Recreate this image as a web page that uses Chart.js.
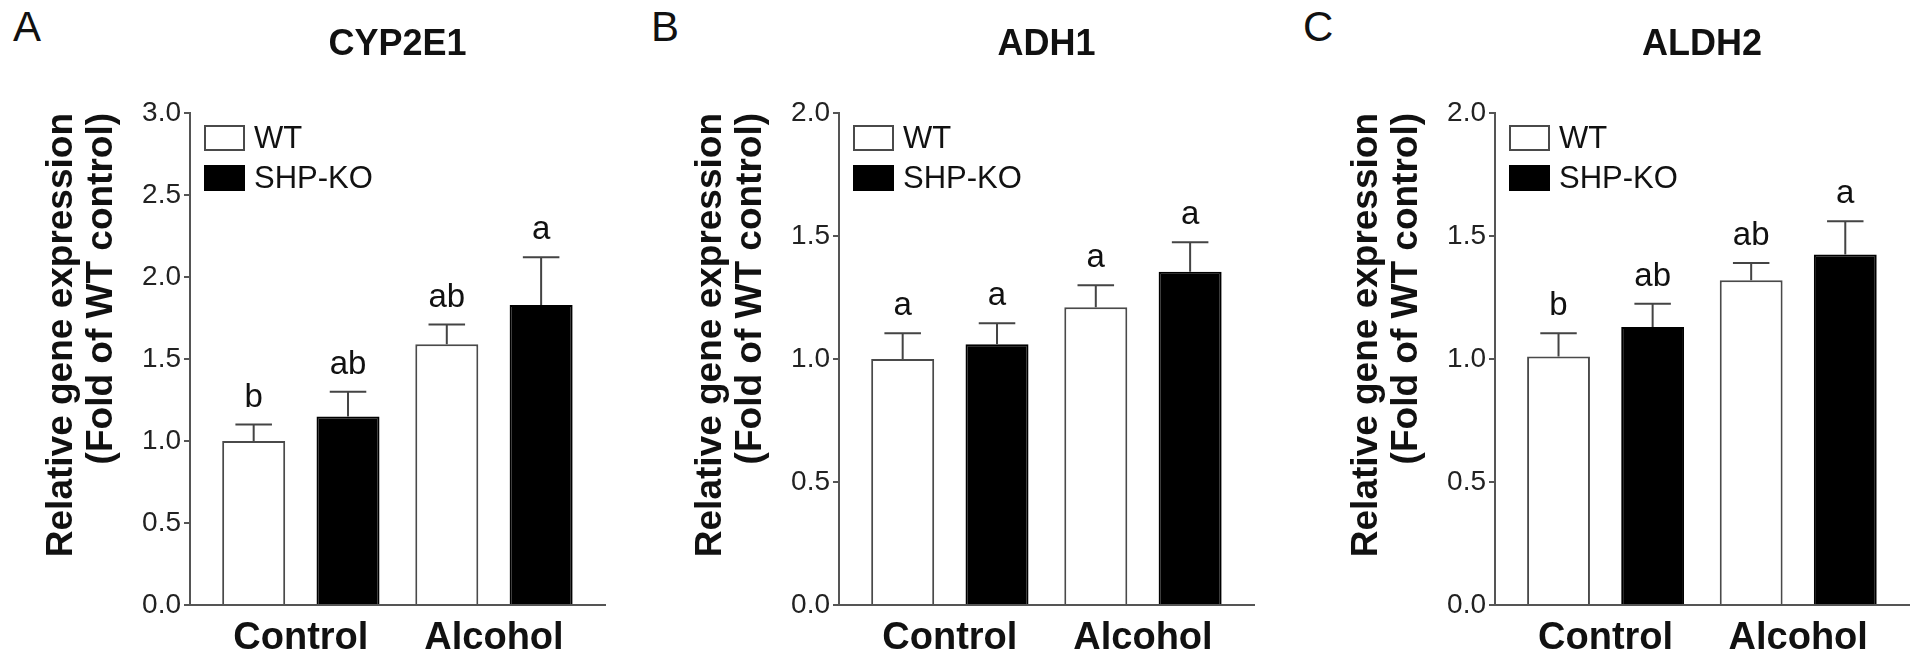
<!DOCTYPE html>
<html>
<head>
<meta charset="utf-8">
<title>CYP2E1, ADH1, ALDH2 expression</title>
<script src="https://cdn.jsdelivr.net/npm/chart.js@4.4.0/dist/chart.umd.min.js"></script>
<style>
  html, body { margin: 0; padding: 0; background: #fff; overflow: hidden; }
  body { width: 1922px; height: 664px; position: relative; font-family: "Liberation Sans", Arial, sans-serif; }
  canvas { position: absolute; top: 0; }
  .tag { position: absolute; top: 6px; font-size: 42px; line-height: 42px; color: #111; }
</style>
</head>
<body>
<div class="tag" style="left:13px">A</div>
<div class="tag" style="left:651px">B</div>
<div class="tag" style="left:1303px">C</div>
<canvas id="cypChart" width="640" height="664" style="left:0px"></canvas>
<canvas id="adhChart" width="640" height="664" style="left:649px"></canvas>
<canvas id="aldhChart" width="617" height="664" style="left:1305px"></canvas>
<script>
// groups and series
const categories = ['Control', 'Alcohol'];
const seriesNames = ['WT', 'SHP-KO'];

// CYP2E1 (mean, SEM, significance letters)
const cypWT = [1.00, 1.59];
const cypWTErr = [0.10, 0.12];
const cypWTSig = ['b', 'ab'];
const cypKO = [1.15, 1.83];
const cypKOErr = [0.15, 0.29];
const cypKOSig = ['ab', 'a'];

// ADH1
const adhWT = [1.00, 1.21];
const adhWTErr = [0.105, 0.09];
const adhWTSig = ['a', 'a'];
const adhKO = [1.06, 1.355];
const adhKOErr = [0.085, 0.12];
const adhKOSig = ['a', 'a'];

// ALDH2
const aldhWT = [1.01, 1.32];
const aldhWTErr = [0.095, 0.07];
const aldhWTSig = ['b', 'ab'];
const aldhKO = [1.13, 1.425];
const aldhKOErr = [0.095, 0.135];
const aldhKOSig = ['ab', 'a'];

// x range around the two groups (group index 0 and 1)
const xMin = -0.574;
const xMax = 1.575;

const FONT = '"Liberation Sans", Arial, sans-serif';
const AXIS = '#555';

// error bars, letters above them and the legend inside the plot
const annotate = {
  id: 'annotate',
  afterDatasetsDraw(chart) {
    const ctx = chart.ctx;
    const yScale = chart.scales.y;
    ctx.save();
    chart.data.datasets.forEach((ds, d) => {
      chart.getDatasetMeta(d).data.forEach((bar, i) => {
        const top = yScale.getPixelForValue(ds.data[i].y + ds.errors[i]);
        const half = bar.width * 0.29;
        ctx.strokeStyle = '#444';
        ctx.lineWidth = 2;
        ctx.beginPath();
        ctx.moveTo(bar.x, bar.y);
        ctx.lineTo(bar.x, top);
        ctx.moveTo(bar.x - half, top);
        ctx.lineTo(bar.x + half, top);
        ctx.stroke();
        ctx.fillStyle = '#111';
        ctx.font = '33px ' + FONT;
        ctx.textAlign = 'center';
        ctx.textBaseline = 'alphabetic';
        ctx.fillText(ds.letters[i], bar.x, top - 18);
      });
    });
    const area = chart.chartArea;
    chart.data.datasets.forEach((ds, d) => {
      const bx = area.left + 14;
      const by = area.top + 12 + d * 40;
      ctx.fillStyle = ds.backgroundColor;
      ctx.fillRect(bx, by, 41, 26);
      ctx.strokeStyle = ds.borderColor;
      ctx.lineWidth = 2;
      ctx.strokeRect(bx + 1, by + 1, 39, 24);
      ctx.fillStyle = '#111';
      ctx.font = '31px ' + FONT;
      ctx.textAlign = 'left';
      ctx.textBaseline = 'middle';
      ctx.fillText(ds.label, bx + 50, by + 14);
    });
    ctx.restore();
  }
};

function makeChart(id, title, yMax, wt, wtErr, wtSig, ko, koErr, koSig, padRight) {
  return new Chart(document.getElementById(id), {
    type: 'bar',
    data: {
      datasets: [
        {
          label: seriesNames[0],
          data: wt.map((v, i) => ({ x: i, y: v })),
          errors: wtErr,
          letters: wtSig,
          backgroundColor: '#ffffff',
          borderColor: '#4a4a4a',
          borderWidth: 2
        },
        {
          label: seriesNames[1],
          data: ko.map((v, i) => ({ x: i, y: v })),
          errors: koErr,
          letters: koSig,
          backgroundColor: '#000000',
          borderColor: '#000000',
          borderWidth: 2
        }
      ]
    },
    options: {
      responsive: false,
      animation: false,
      events: [],
      categoryPercentage: 0.977,
      barPercentage: 0.668,
      layout: { padding: { left: 0, top: 0, right: padRight, bottom: 0 } },
      plugins: {
        legend: { display: false },
        tooltip: { enabled: false },
        title: {
          display: true,
          text: title,
          fullSize: false,
          color: '#111',
          font: { family: FONT, size: 36, weight: 'bold' },
          padding: { top: 23, bottom: 46.8 }
        }
      },
      scales: {
        x: {
          type: 'linear',
          min: xMin,
          max: xMax,
          bounds: 'data',
          offset: false,
          afterBuildTicks: s => { s.ticks = categories.map((c, i) => ({ value: i })); },
          afterFit: s => { s.height = 59; },
          ticks: {
            callback: v => categories[v],
            autoSkip: false,
            maxRotation: 0,
            padding: 11,
            color: '#111',
            font: { family: FONT, size: 38, weight: 'bold' }
          },
          grid: { display: false, drawTicks: false, offset: false },
          border: { display: true, color: AXIS, width: 2 }
        },
        y: {
          min: 0,
          max: yMax,
          afterFit: s => { s.width = 190; },
          ticks: {
            stepSize: 0.5,
            callback: v => v.toFixed(1),
            padding: 3,
            color: '#222',
            font: { family: FONT, size: 28 }
          },
          grid: { drawOnChartArea: false, drawTicks: true, tickLength: 6, color: AXIS, lineWidth: 2 },
          border: { display: true, color: AXIS, width: 2 },
          title: {
            display: true,
            text: ['Relative gene expression', '(Fold of WT control)'],
            align: 'end',
            color: '#111',
            font: { family: FONT, size: 37, weight: 'bold', lineHeight: 1.1 },
            padding: { top: 41, bottom: 0 }
          }
        }
      }
    },
    plugins: [annotate]
  });
}

makeChart('cypChart', 'CYP2E1', 3.0, cypWT, cypWTErr, cypWTSig, cypKO, cypKOErr, cypKOSig, 35);
makeChart('adhChart', 'ADH1', 2.0, adhWT, adhWTErr, adhWTSig, adhKO, adhKOErr, adhKOSig, 35);
makeChart('aldhChart', 'ALDH2', 2.0, aldhWT, aldhWTErr, aldhWTSig, aldhKO, aldhKOErr, aldhKOSig, 13);
</script>
</body>
</html>
